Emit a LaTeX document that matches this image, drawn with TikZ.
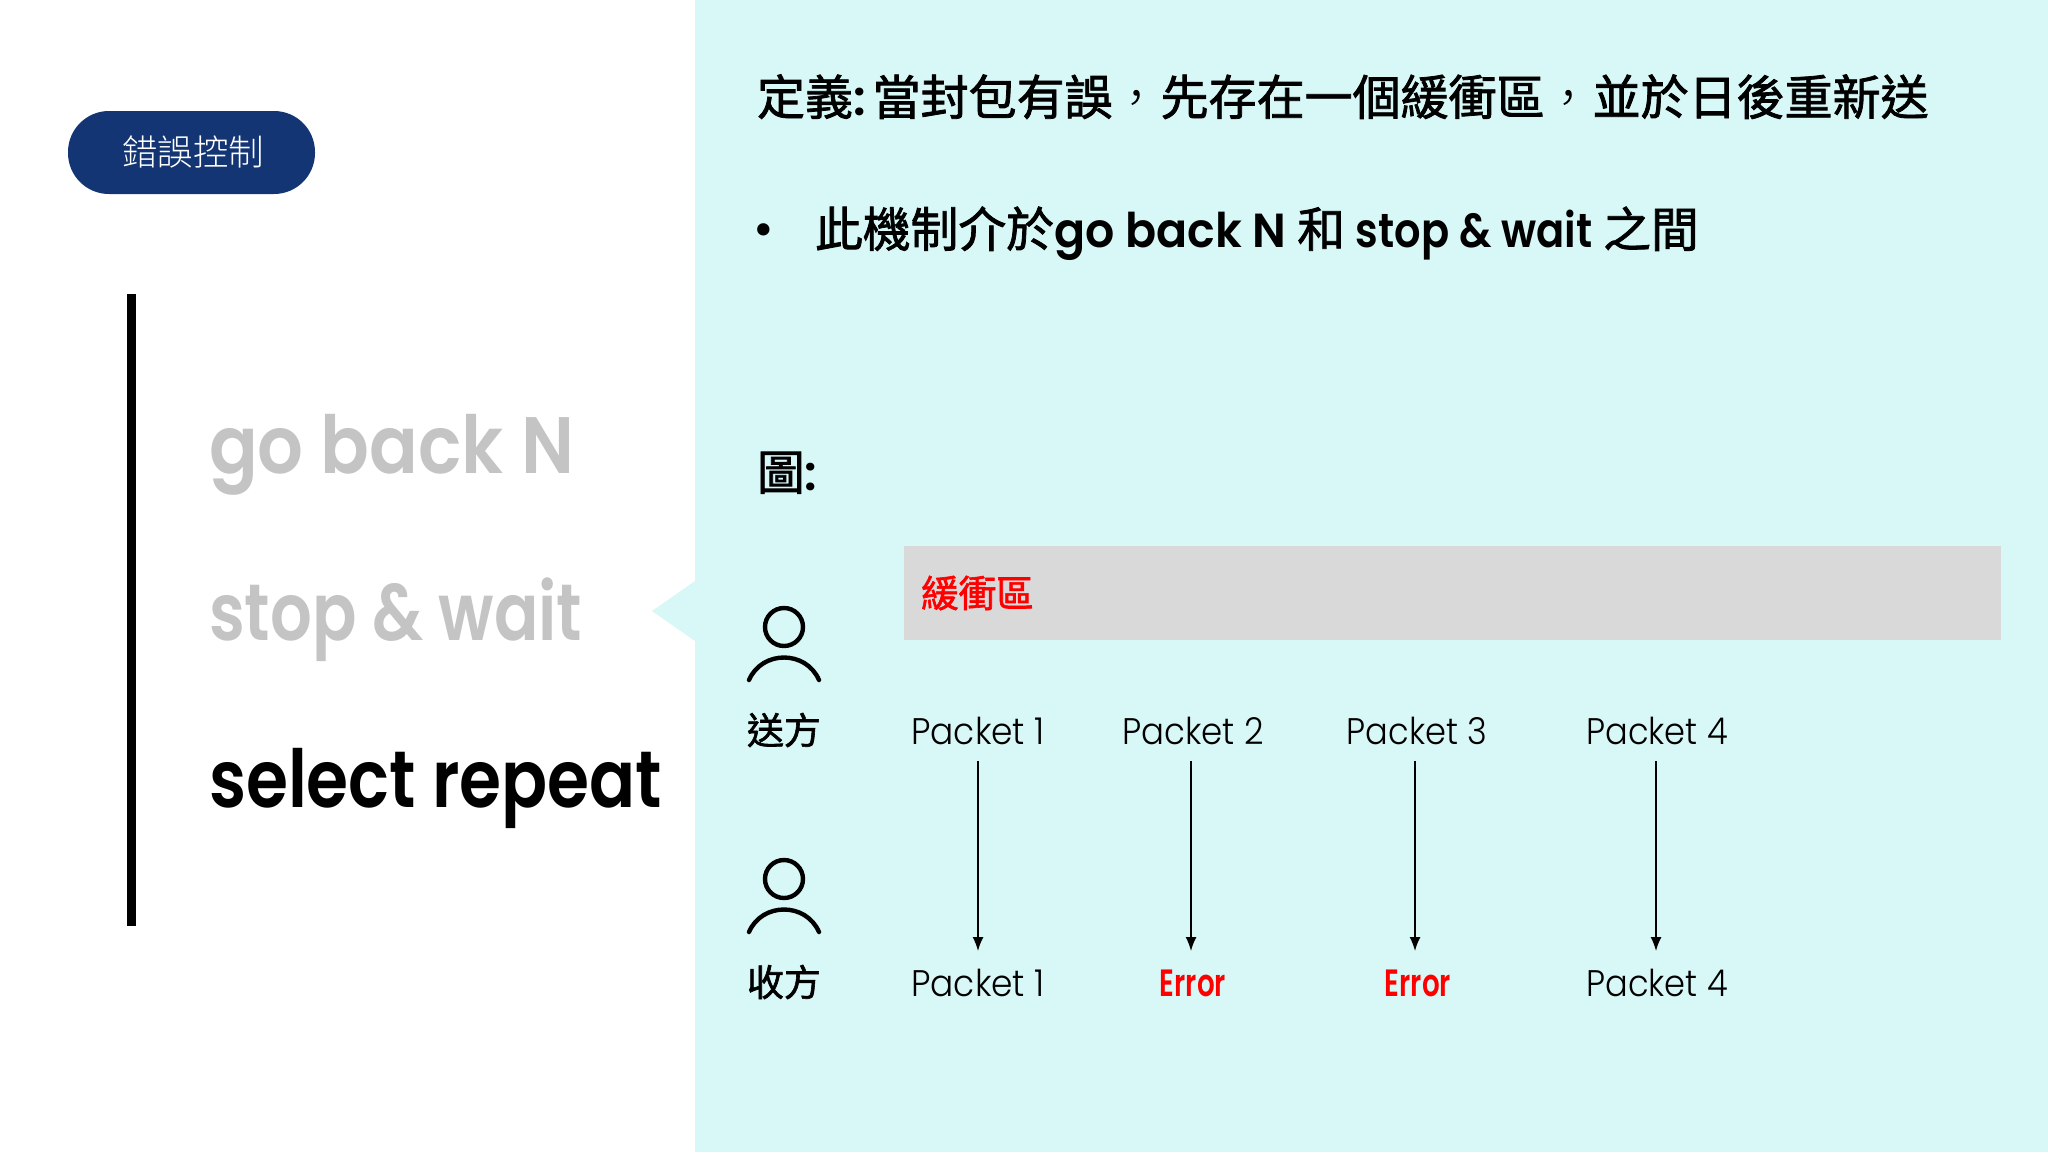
\documentclass[tikz,border=0pt]{standalone}
\usepackage{fontspec}
\usepackage{graphicx}
\usetikzlibrary{calc,arrows.meta}
\setmainfont{Poppins}
\newfontfamily\latm{Poppins}[BoldFont=Poppins SemiBold]
\newfontfamily\latl{Poppins Light}
\newfontfamily\cjkr{Noto Sans CJK TC Light}
\newfontfamily\cjkb{Noto Sans CJK TC}[FakeBold=1.6]
\newcommand{\fsz}[1]{\fontsize{#1}{#1}\selectfont}
\newcommand{\sq}[2]{\scalebox{#1}[1]{#2}}
\newcommand{\fwc}{{\cjkr\char"FF0C\relax}}
\definecolor{panelc}{HTML}{D8F7F7}
\definecolor{pillc}{HTML}{143574}
\definecolor{barc}{HTML}{D9D9D9}
\definecolor{greyt}{HTML}{C4C4C4}
\definecolor{redt}{HTML}{FF0000}
\tikzset{
  txt/.style={inner sep=0pt,outer sep=0pt,anchor=base west},
  pkt/.style={inner sep=0pt,outer sep=0pt,anchor=center,minimum height=60pt,font=\latl\fsz{37}},
  errt/.style={pkt,font=\latm\fsz{38}\bfseries,text=redt},
  who/.style={inner sep=0pt,outer sep=0pt,anchor=center,font=\cjkb\fsz{37}},
  flow/.style={line width=1.5pt,-{Latex[length=14pt,width=11pt]}},
  person/.style={line width=4.4pt,line cap=round}
}
\begin{document}
\begin{tikzpicture}[x=1pt,y=-1pt]
\useasboundingbox (0,0) rectangle (2048,1152);
\fill[white] (0,0) rectangle (2048,1152);
\fill[panelc] (695,0) rectangle (2048,1152);
\fill[panelc] (652,611) -- (695,581) -- (695,641) -- cycle;
\fill[black] (127,294) rectangle (136,926);
\fill[pillc,rounded corners=41pt] (68,111) rectangle (315,194);
\node[inner sep=0pt] (pill) at (193,152) {\color{white}\cjkr\fsz{35.5}錯誤控制};
\node[txt,text=greyt] (g1) at (209,473) {\sq{0.90}{\latm\fsz{80}\bfseries go back N}};
\node[txt,text=greyt] (g2) at (209,640) {\sq{0.82}{\latm\fsz{80}\bfseries stop \& wait}};
\node[txt,text=black] (g3) at (209,807) {\sq{0.85}{\latm\fsz{80}\bfseries select repeat}};
\node[txt] (title) at (757,115) {\cjkb\fsz{48}定義{\latm\bfseries:}\hspace{7pt}當封包有誤\fwc 先存在一個緩衝區\fwc 並於日後重新送};
\node[inner sep=0pt] (dot) at (764,235) {\fontsize{50}{50}\selectfont •};
\node[txt] (line2) at (815,247) {\cjkb\fsz{47.8}此機制介於\sq{0.96}{\latm\bfseries go back N} 和 \sq{0.87}{\latm\bfseries stop \& wait} 之間};
\node[txt] (fig) at (757,490) {\cjkb\fsz{47.8}圖{\latm\bfseries:}};
\fill[barc] (904,546) rectangle (2001,640);
\node[inner sep=0pt,anchor=west,text=redt] (buf) at (921,593) {\cjkb\fsz{37.5}緩衝區};
% people
\draw[person] (784,627) circle (19);
\draw[person] (749,680) .. controls (762,650) and (806,650) .. (819,680);
\draw[person] (784,879) circle (19);
\draw[person] (749,932) .. controls (762,902) and (806,902) .. (819,932);
\node[who] (snd) at (784,730) {送方};
\node[who] (rcv) at (784,982) {收方};
\node[pkt] (p1) at (978,731) {\sq{0.93}{Packet 1}};
\node[pkt] (p2) at (1193,731) {\sq{0.92}{Packet 2}};
\node[pkt] (p3) at (1417,731) {\sq{0.91}{Packet 3}};
\node[pkt] (p4) at (1657,731) {\sq{0.91}{Packet 4}};
\node[pkt] (r1) at (978,983) {\sq{0.93}{Packet 1}};
\node[errt] (r2) at (1193,983) {\sq{0.73}{Error}};
\node[errt] (r3) at (1418,983) {\sq{0.73}{Error}};
\node[pkt] (r4) at (1657,983) {\sq{0.91}{Packet 4}};
\draw[flow] (p1.south) -- ($(r1.north)+(0,-2)$);
\draw[flow] ($(p2.south)+(-2,0)$) -- ($(r2.north)+(-2,-2)$);
\draw[flow] ($(p3.south)+(-2,0)$) -- ($(r3.north)+(-3,-2)$);
\draw[flow] ($(p4.south)+(-1,0)$) -- ($(r4.north)+(-1,-2)$);
\end{tikzpicture}
\end{document}
